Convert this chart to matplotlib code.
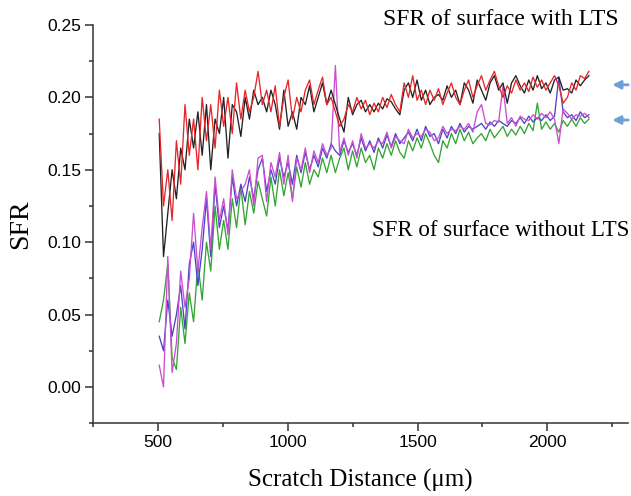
import numpy as np
import matplotlib.pyplot as plt
from matplotlib.ticker import MultipleLocator

with_lts_black = [
    0.175, 0.090, 0.120, 0.150, 0.130, 0.165, 0.150, 0.185, 0.165, 0.190,
    0.160, 0.195, 0.150, 0.185, 0.175, 0.200, 0.158, 0.195, 0.190, 0.173,
    0.200, 0.185, 0.205, 0.195, 0.200, 0.190, 0.205, 0.195, 0.178, 0.205,
    0.180, 0.190, 0.178, 0.200, 0.195, 0.208, 0.190, 0.200, 0.210, 0.195,
    0.205, 0.195, 0.185, 0.176, 0.200, 0.188, 0.195, 0.198, 0.190, 0.195,
    0.190, 0.196, 0.192, 0.199, 0.197, 0.192, 0.188, 0.205, 0.210, 0.200,
    0.212, 0.198, 0.205, 0.195, 0.200, 0.202, 0.198, 0.208, 0.200, 0.205,
    0.195, 0.210, 0.205, 0.196, 0.212, 0.205, 0.198, 0.210, 0.215, 0.205,
    0.210, 0.196, 0.210, 0.215, 0.208, 0.203, 0.212, 0.205, 0.215, 0.206,
    0.210, 0.203, 0.212, 0.214, 0.205, 0.206, 0.203, 0.212, 0.208, 0.212,
    0.215,
]
with_lts_red = [
    0.185, 0.125, 0.150, 0.115, 0.170, 0.140, 0.195, 0.160, 0.185, 0.150,
    0.200, 0.170, 0.195, 0.165, 0.205, 0.180, 0.200, 0.175, 0.210, 0.185,
    0.205, 0.190, 0.200, 0.218, 0.195, 0.205, 0.190, 0.208, 0.180, 0.200,
    0.212, 0.185, 0.200, 0.190, 0.205, 0.212, 0.195, 0.205, 0.214, 0.195,
    0.200, 0.190, 0.180, 0.185, 0.195, 0.190, 0.200, 0.192, 0.198, 0.188,
    0.196, 0.190, 0.200, 0.193, 0.202, 0.195, 0.190, 0.210, 0.200, 0.215,
    0.198, 0.205, 0.195, 0.205, 0.198, 0.206, 0.195, 0.203, 0.210, 0.200,
    0.195, 0.205, 0.212, 0.200, 0.208, 0.215, 0.205, 0.212, 0.218, 0.208,
    0.200, 0.208, 0.203, 0.212, 0.205, 0.210, 0.204, 0.214, 0.207, 0.212,
    0.205, 0.210, 0.215, 0.208, 0.196, 0.200, 0.210, 0.205, 0.215, 0.213,
    0.218,
]
no_lts_green = [
    0.045, 0.060, 0.085, 0.020, 0.012, 0.055, 0.030, 0.065, 0.045, 0.085,
    0.060, 0.100, 0.080, 0.125, 0.095, 0.115, 0.095, 0.130, 0.110, 0.138,
    0.112, 0.135, 0.120, 0.142, 0.130, 0.118, 0.145, 0.125, 0.150, 0.132,
    0.148, 0.130, 0.152, 0.138, 0.155, 0.140, 0.150, 0.145, 0.158, 0.148,
    0.160, 0.148, 0.158, 0.165, 0.150, 0.163, 0.152, 0.165, 0.155, 0.160,
    0.150, 0.165, 0.158, 0.168, 0.160, 0.170, 0.162, 0.158, 0.170, 0.163,
    0.172, 0.165, 0.175, 0.168, 0.160, 0.155, 0.170, 0.165, 0.175, 0.168,
    0.178, 0.170, 0.176, 0.168, 0.172, 0.175, 0.170, 0.178, 0.172, 0.176,
    0.180, 0.173, 0.178, 0.174, 0.180, 0.175, 0.182, 0.177, 0.196, 0.178,
    0.183, 0.178, 0.182, 0.176, 0.184, 0.180, 0.185, 0.180, 0.186, 0.182,
    0.185,
]
no_lts_blue = [
    0.035, 0.025, 0.060, 0.035, 0.050, 0.070, 0.040, 0.085, 0.100, 0.070,
    0.095, 0.130, 0.090, 0.140, 0.110, 0.125, 0.108, 0.145, 0.125, 0.140,
    0.128, 0.145, 0.130, 0.150, 0.158, 0.135, 0.150, 0.140, 0.158, 0.145,
    0.155, 0.140, 0.160, 0.148, 0.162, 0.150, 0.160, 0.152, 0.165, 0.158,
    0.168, 0.163, 0.160, 0.170, 0.162, 0.168, 0.160, 0.172, 0.163, 0.170,
    0.162, 0.172, 0.165, 0.174, 0.166, 0.175, 0.168, 0.172, 0.176, 0.170,
    0.178, 0.170, 0.180, 0.173, 0.175, 0.168, 0.178, 0.172, 0.180, 0.175,
    0.182, 0.176, 0.180, 0.178, 0.180, 0.182, 0.178, 0.183, 0.180, 0.184,
    0.182, 0.180, 0.184, 0.182, 0.186, 0.182, 0.187, 0.183, 0.186, 0.184,
    0.188, 0.184, 0.187, 0.214, 0.190, 0.186, 0.188, 0.184, 0.190, 0.186,
    0.188,
]
no_lts_magenta = [
    0.015, 0.000, 0.090, 0.010, 0.030, 0.080, 0.055, 0.075, 0.120, 0.080,
    0.110, 0.135, 0.095, 0.145, 0.115, 0.130, 0.105, 0.150, 0.130, 0.135,
    0.140, 0.150, 0.125, 0.158, 0.160, 0.128, 0.155, 0.145, 0.162, 0.140,
    0.160, 0.128, 0.158, 0.150, 0.165, 0.148, 0.163, 0.155, 0.168, 0.160,
    0.165, 0.222, 0.162, 0.172, 0.160, 0.170, 0.158, 0.175, 0.165, 0.168,
    0.165, 0.170, 0.168, 0.176, 0.165, 0.173, 0.170, 0.168, 0.178, 0.172,
    0.175, 0.173, 0.178, 0.176, 0.170, 0.172, 0.180, 0.175, 0.178, 0.177,
    0.180, 0.178, 0.182, 0.176, 0.190, 0.195, 0.182, 0.181, 0.184, 0.183,
    0.208, 0.182, 0.186, 0.180, 0.187, 0.185, 0.184, 0.188, 0.185, 0.189,
    0.186, 0.190, 0.185, 0.168, 0.192, 0.189, 0.185, 0.188, 0.187, 0.189,
    0.186,
]
distance = np.linspace(505, 2160, len(with_lts_red))

serif = 'Liberation Serif'
plt.rcParams['font.family'] = 'Liberation Sans'

fig = plt.figure(figsize=(6.31, 4.96), dpi=100)
ax = fig.add_axes([0.1474, 0.147, 0.8476, 0.8026])

lw = 0.95
ax.plot(distance, no_lts_green, color='#33a532', lw=lw)
ax.plot(distance, no_lts_blue, color='#4a45c8', lw=lw)
ax.plot(distance, no_lts_magenta, color='#c94fd0', lw=lw)
ax.plot(distance, with_lts_black, color='#222222', lw=lw)
ax.plot(distance, with_lts_red, color='#e8262a', lw=lw)

ax.set_xlim(250, 2310)
ax.set_ylim(-0.025, 0.25)
ax.xaxis.set_major_locator(MultipleLocator(500))
ax.xaxis.set_minor_locator(MultipleLocator(250))
ax.yaxis.set_major_locator(MultipleLocator(0.05))
ax.yaxis.set_minor_locator(MultipleLocator(0.025))
ax.set_xticks([500, 1000, 1500, 2000])
ax.set_yticks([0.0, 0.05, 0.10, 0.15, 0.20, 0.25])
ax.set_yticklabels(['0.00', '0.05', '0.10', '0.15', '0.20', '0.25'])

ax.spines['top'].set_visible(False)
ax.spines['right'].set_visible(False)
for s in ('left', 'bottom'):
    ax.spines[s].set_linewidth(1.1)
    ax.spines[s].set_color('#333333')
ax.tick_params(which='major', direction='out', length=5.5, width=1.1,
               color='#333333', labelsize=12.5, pad=3)
ax.tick_params(which='minor', direction='out', length=3, width=1.1,
               color='#333333')

ax.set_xlabel('Scratch Distance (\u03bcm)', fontsize=18, family=serif, labelpad=14)
ax.set_ylabel('SFR', fontsize=20, family=serif, labelpad=10)

fig.text(0.607, 0.960, 'SFR of surface with LTS', fontsize=17,
         family=serif, va='center')
fig.text(0.589, 0.536, 'SFR of surface without LTS', fontsize=16.5,
         family=serif, va='center')

for yf in (0.829, 0.758):
    ax.annotate('', xy=(0.966, yf), xytext=(1.0, yf),
                xycoords='figure fraction', textcoords='figure fraction',
                arrowprops=dict(arrowstyle='-|>', color='#6e9fd6', lw=2,
                                mutation_scale=12))

fig.savefig('out.png', dpi=100)
